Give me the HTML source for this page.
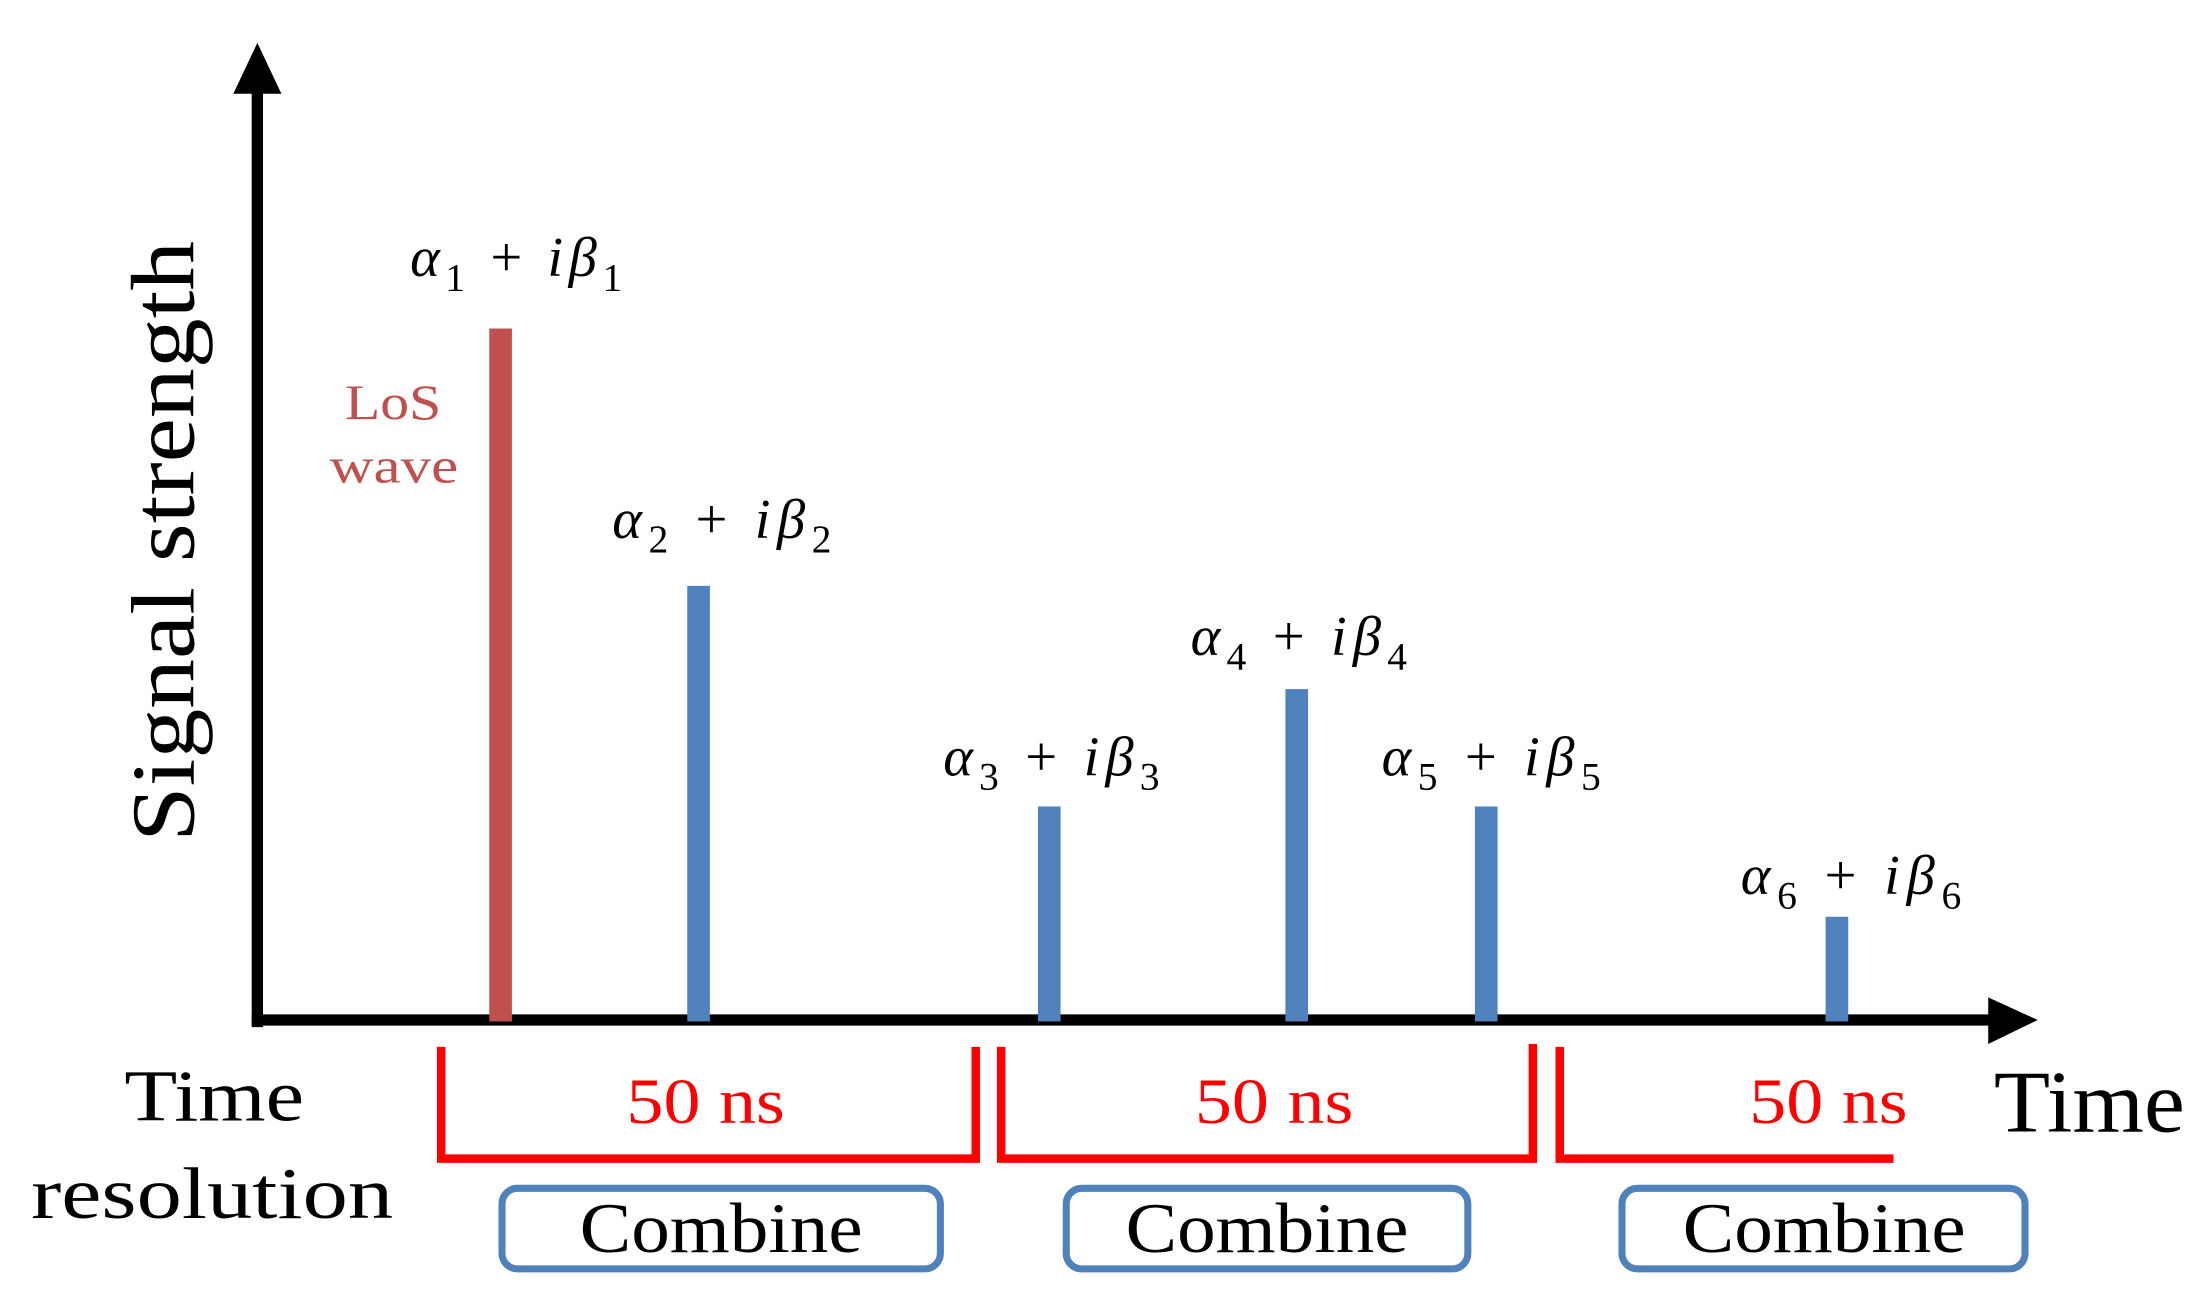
<!DOCTYPE html>
<html><head><meta charset="utf-8"><style>
html,body{margin:0;padding:0;background:#fff;}
svg{display:block;}
text{font-family:"Liberation Serif",serif;}
.m{font-size:40px;font-style:italic;fill:#000;}
.s{font-size:28px;font-style:normal;}
</style></head><body>
<svg width="2206" height="1316" viewBox="0 0 1560 930" xmlns="http://www.w3.org/2000/svg">
<rect width="1560" height="930" fill="#fff"/>
<line x1="182" y1="60" x2="182" y2="726" stroke="#000" stroke-width="8"/>
<polygon points="182,30 165,66 199,66" fill="#000"/>
<line x1="178" y1="721" x2="1410" y2="721" stroke="#000" stroke-width="8"/>
<polygon points="1441,721 1406,705 1406,738" fill="#000"/>
<rect x="346" y="232" width="16" height="490" fill="#c0504d"/>
<rect x="486" y="414" width="16" height="308" fill="#4f81bd"/>
<rect x="734" y="570" width="16" height="152" fill="#4f81bd"/>
<rect x="909" y="487" width="16" height="235" fill="#4f81bd"/>
<rect x="1043" y="570" width="16" height="152" fill="#4f81bd"/>
<rect x="1291" y="648" width="16" height="74" fill="#4f81bd"/>
<text class="m" x="290" y="195" textLength="150" lengthAdjust="spacing">α<tspan class="s" dy="10">1</tspan><tspan dy="-10" style="font-style:normal"> + </tspan>iβ<tspan class="s" dy="10">1</tspan></text>
<text class="m" x="433" y="380" textLength="155" lengthAdjust="spacing">α<tspan class="s" dy="10">2</tspan><tspan dy="-10" style="font-style:normal"> + </tspan>iβ<tspan class="s" dy="10">2</tspan></text>
<text class="m" x="667" y="548" textLength="153" lengthAdjust="spacing">α<tspan class="s" dy="10">3</tspan><tspan dy="-10" style="font-style:normal"> + </tspan>iβ<tspan class="s" dy="10">3</tspan></text>
<text class="m" x="842" y="463" textLength="153" lengthAdjust="spacing">α<tspan class="s" dy="10">4</tspan><tspan dy="-10" style="font-style:normal"> + </tspan>iβ<tspan class="s" dy="10">4</tspan></text>
<text class="m" x="977" y="548" textLength="155" lengthAdjust="spacing">α<tspan class="s" dy="10">5</tspan><tspan dy="-10" style="font-style:normal"> + </tspan>iβ<tspan class="s" dy="10">5</tspan></text>
<text class="m" x="1231" y="632" textLength="156" lengthAdjust="spacing">α<tspan class="s" dy="10">6</tspan><tspan dy="-10" style="font-style:normal"> + </tspan>iβ<tspan class="s" dy="10">6</tspan></text>
<text x="244" y="296" textLength="68" lengthAdjust="spacingAndGlyphs" font-size="35" fill="#c0504d">LoS</text>
<text x="233" y="341" textLength="91" lengthAdjust="spacingAndGlyphs" font-size="35" fill="#c0504d">wave</text>
<text transform="translate(137,595) rotate(-90)" x="0" y="0" textLength="425" lengthAdjust="spacingAndGlyphs" font-size="64" fill="#000">Signal strength</text>
<g stroke="#ff0000" stroke-width="6" fill="none">
<polyline points="312,740 312,819 690,819 690,740"/>
<polyline points="708,740 708,819 1084,819 1084,738"/>
<polyline points="1103,740 1103,819 1339,819"/>
</g>
<text x="443" y="794" textLength="112" lengthAdjust="spacingAndGlyphs" font-size="46" fill="#ff0000">50 ns</text>
<text x="845" y="794" textLength="112" lengthAdjust="spacingAndGlyphs" font-size="46" fill="#ff0000">50 ns</text>
<text x="1237" y="794" textLength="112" lengthAdjust="spacingAndGlyphs" font-size="46" fill="#ff0000">50 ns</text>
<text x="88" y="792" textLength="127" lengthAdjust="spacingAndGlyphs" font-size="52" fill="#000">Time</text>
<text x="22" y="861" textLength="256" lengthAdjust="spacingAndGlyphs" font-size="52" fill="#000">resolution</text>
<text x="1410" y="800" textLength="135" lengthAdjust="spacingAndGlyphs" font-size="62" fill="#000">Time</text>
<g stroke="#4f81bd" stroke-width="5" fill="#fff">
<rect x="355" y="840" width="310" height="57" rx="11"/>
<rect x="754" y="840" width="284" height="57" rx="11"/>
<rect x="1147" y="840" width="285" height="57" rx="11"/>
</g>
<text x="410" y="885" textLength="200" lengthAdjust="spacingAndGlyphs" font-size="50" fill="#000">Combine</text>
<text x="796" y="885" textLength="200" lengthAdjust="spacingAndGlyphs" font-size="50" fill="#000">Combine</text>
<text x="1190" y="885" textLength="200" lengthAdjust="spacingAndGlyphs" font-size="50" fill="#000">Combine</text>
</svg>
</body></html>
